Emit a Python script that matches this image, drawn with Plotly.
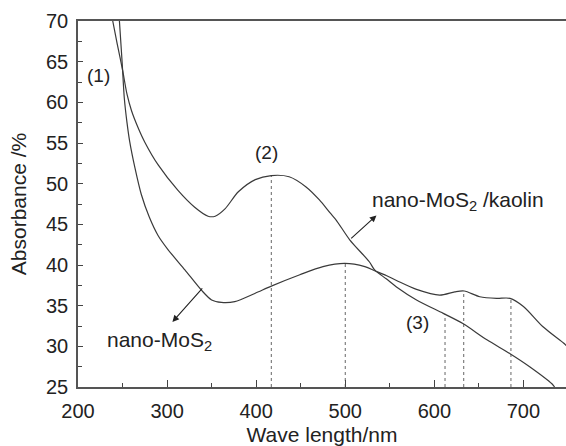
import plotly.graph_objects as go

# nano-MoS2/kaolin curve
kaolin_x = [239, 244, 250, 255, 260, 267, 275, 290, 312, 331, 346, 354, 365, 380, 399, 417, 437,
            456, 471, 483, 490, 505, 527, 533, 546, 557.5, 580, 610, 632, 659, 685, 707, 732, 735]
kaolin_y = [70.0, 67.2, 64.0, 61.0, 59.0, 57.0, 55.1, 52.3, 49.2, 47.1, 46.0, 46.0, 46.9, 49.0, 50.5, 51.0, 50.85,
            49.6, 48.0, 46.4, 45.5, 43.1, 40.4, 39.4, 38.3, 37.3, 35.7, 34.05, 32.8, 30.8, 29.1, 27.5, 25.4, 25.0]

# nano-MoS2 curve
mos2_x = [246.5, 249.5, 252, 255, 258, 264, 271, 280, 290, 301, 320, 338.6, 350, 361, 376, 398.5, 417,
          449, 475, 499.5, 522, 533, 546, 557.5, 580, 606, 623, 633.5, 651, 670, 685, 700, 722, 745, 748]
mos2_y = [70.0, 65.0, 60.5, 57.5, 55.2, 51.9, 48.7, 45.9, 43.6, 41.9, 39.4, 36.9, 35.7, 35.4, 35.5, 36.5, 37.4,
          38.8, 39.8, 40.2, 39.8, 39.3, 38.7, 38.1, 37.0, 36.3, 36.7, 36.8, 36.1, 35.9, 35.9, 34.9, 32.4, 30.4, 30.1]

# dotted marker lines
mark_x = [417, 500, 612, 633, 686]
mark_y = [51.0, 40.2, 34.0, 36.8, 35.9]

FONT = "Liberation Sans, Arial, sans-serif"
LC = "#3a3a3a"

fig = go.Figure()
for mx, my in zip(mark_x, mark_y):
    fig.add_trace(go.Scatter(x=[mx, mx], y=[25, my], mode="lines",
                             line=dict(color="#666", width=1, dash="dot"),
                             showlegend=False, hoverinfo="skip"))
fig.add_trace(go.Scatter(x=kaolin_x, y=kaolin_y, mode="lines",
                         line=dict(color=LC, width=1.2, shape="spline", smoothing=0.8),
                         showlegend=False))
fig.add_trace(go.Scatter(x=mos2_x, y=mos2_y, mode="lines",
                         line=dict(color=LC, width=1.2, shape="spline", smoothing=0.8),
                         showlegend=False))

ann_font = dict(family=FONT, size=21, color="#222")
small_font = dict(family=FONT, size=19, color="#222")
annotations = [
    dict(x=223, y=63.3, text="(1)", showarrow=False, font=small_font),
    dict(x=412, y=53.8, text="(2)", showarrow=False, font=small_font),
    dict(x=581, y=32.9, text="(3)", showarrow=False, font=small_font),
    dict(x=626.5, y=47.9, text="nano-MoS<sub>2</sub> /kaolin", showarrow=False, font=ann_font),
    dict(x=292, y=30.7, text="nano-MoS<sub>2</sub>", showarrow=False, font=ann_font),
    dict(x=535, y=46.1, ax=505, ay=43.1, axref="x", ayref="y", xref="x", yref="y",
         text="", showarrow=True, arrowhead=2, arrowsize=1.2, arrowwidth=1.1, arrowcolor="#222"),
    dict(x=306, y=33.0, ax=341, ay=37.3, axref="x", ayref="y", xref="x", yref="y",
         text="", showarrow=True, arrowhead=2, arrowsize=1.2, arrowwidth=1.1, arrowcolor="#222"),
]

fig.update_layout(
    width=566, height=446,
    margin=dict(l=78, r=0, t=21, b=59),
    paper_bgcolor="white", plot_bgcolor="white",
    font=dict(family=FONT, size=20, color="#222"),
    annotations=annotations,
    xaxis=dict(range=[200, 747.8], tickvals=[200, 300, 400, 500, 600, 700],
               ticks="inside", ticklen=7, tickwidth=1.2, tickcolor="#444",
               minor=dict(dtick=50, tick0=200, ticks="inside", ticklen=4, tickcolor="#444", showgrid=False),
               showline=True, linecolor="#555", linewidth=1.5, mirror=True,
               showgrid=False, zeroline=False, ticklabelstandoff=5,
               title=dict(text="Wave length/nm", font=dict(size=21), standoff=7),
               tickfont=dict(size=20)),
    yaxis=dict(range=[25, 70], tickvals=[25, 30, 35, 40, 45, 50, 55, 60, 65, 70],
               ticks="inside", ticklen=5, tickwidth=1.2, tickcolor="#444",
               minor=dict(dtick=2.5, tick0=25, ticks="inside", ticklen=4, tickcolor="#444", showgrid=False),
               showline=True, linecolor="#555", linewidth=1.5,
               showgrid=False, zeroline=False, ticklabelstandoff=4,
               title=dict(text="Absorbance /%", font=dict(size=21), standoff=14),
               tickfont=dict(size=20)),
)

fig.write_html("out.html")
